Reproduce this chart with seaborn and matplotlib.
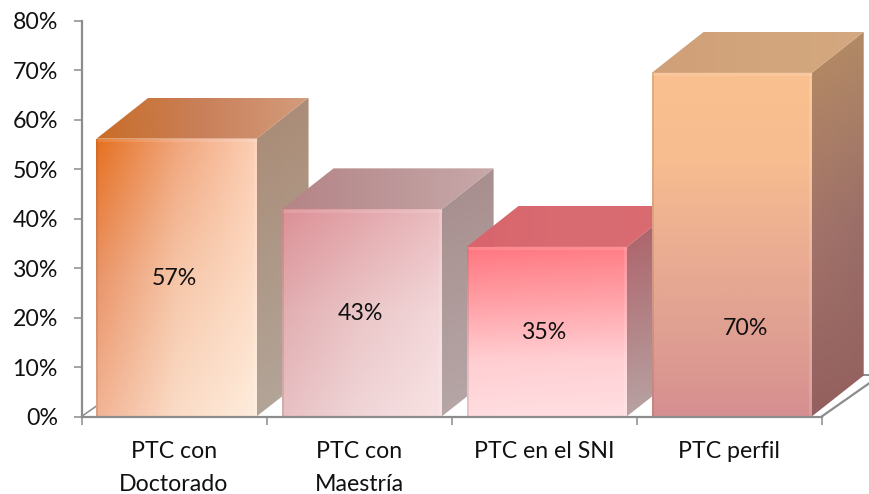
import numpy as np
import pandas as pd
import matplotlib
matplotlib.use("Agg")
import matplotlib.pyplot as plt
from matplotlib.colors import to_rgb
from matplotlib.patches import Polygon
import seaborn as sns

categories = ["PTC con\nDoctorado", "PTC con\nMaestría", "PTC en el SNI", "PTC perfil"]
drawn_heights = [56.2, 41.9, 34.3, 69.5]
value_labels = ["57%", "43%", "35%", "70%"]
y_ticks = [0, 10, 20, 30, 40, 50, 60, 70, 80]

W, H = 869, 494
AX_L, AX_R, AX_T, AX_B = 81.5, 821.7, 21.0, 416.5
AXIS = "#8c8c8c"
FS = 16.7

# colour grids: rows run top to bottom, columns left to right
front_colors = [
    [["#e5701f", "#f0a47a", "#fdcfb4"], ["#ea9468", "#f6c6a8", "#fddcc6"], ["#f2b393", "#fbdcc6", "#feecdc"]],
    [["#dc9096", "#e3a6aa", "#eabcc0"], ["#e2aeb1", "#ebc6c8", "#f3d8da"], ["#e8c0c3", "#f0d6d8", "#f9e2e3"]],
    [["#ff7680", "#ff7e86"], ["#ffa0a6", "#ffa6ac"], ["#ffcdd1", "#ffd0d4"], ["#ffdde0", "#ffdfe2"]],
    [["#fbc08e", "#fbc08e"], ["#f8bd90", "#f8bd90"], ["#ecae92", "#ecae92"], ["#e0a092", "#e0a092"], ["#d68f90", "#d68f90"]],
]
side_colors = [
    [["#a98a74", "#ab8d78"], ["#b2a498", "#b5a89c"]],
    [["#a68c8c", "#a98f8f"], ["#b6a6a6", "#b8a8a8"]],
    [["#ad5a62", "#a8666a"], ["#b8a2a2", "#b8a4a4"]],
    [["#b68c62", "#b28a66"], ["#a3746a", "#9a6e68"], ["#94605f", "#935f5e"]],
]
top_colors = [
    [["#c96d27", "#c9805a", "#d49c7c"]],
    [["#b58486", "#bc9698", "#c8a8a8"]],
    [["#d9646c", "#d86c72", "#da6a70"]],
    [["#d0a078", "#d2a57c", "#d4a880"]],
]

sns.set_theme(style="white")
plt.rcParams["font.family"] = ["Lato", "DejaVu Sans"]

fig = plt.figure(figsize=(W / 100, H / 100), dpi=100)
ax = fig.add_axes([AX_L / W, 1 - AX_B / H, (AX_R - AX_L) / W, (AX_B - AX_T) / H])

df = pd.DataFrame({"cat": categories, "val": drawn_heights})
sns.barplot(data=df, x="cat", y="val", hue="cat", legend=False, width=0.865, ax=ax, saturation=1)

px_x = 4 / (AX_R - AX_L)
px_y = 80 / (AX_B - AX_T)
DX, DY = 52 * px_x, 41 * px_y
XLIM = (-0.5, 3.5)
YLIM = (0, 80)


def smooth(grid, n=160):
    arr = np.array([[to_rgb(c) for c in row] for row in grid])
    r, c = arr.shape[:2]
    ys = np.linspace(0, r - 1, n)
    xs = np.linspace(0, c - 1, n)
    out = np.zeros((n, n, 3))
    for k in range(3):
        tmp = np.array([np.interp(xs, np.arange(c), arr[i, :, k]) for i in range(r)])
        out[:, :, k] = np.array([np.interp(ys, np.arange(r), tmp[:, j]) for j in range(n)]).T
    return out


def paint(grid, verts, z):
    verts = np.array(verts)
    x0, y0 = verts.min(axis=0)
    x1, y1 = verts.max(axis=0)
    im = ax.imshow(smooth(grid), extent=(x0, x1, y0, y1), origin="upper",
                   aspect="auto", interpolation="bilinear", zorder=z)
    poly = Polygon(verts, closed=True, transform=ax.transData, facecolor="none", edgecolor="none")
    im.set_clip_box(fig.bbox)
    im.set_clip_path(poly)


rects = [b for c in ax.containers for b in c]
for i, r in enumerate(rects):
    r.set_x(r.get_x() + 2.5 * px_x)
    x0, w, h = r.get_x(), r.get_width(), r.get_height()
    x1 = x0 + w
    z = 10 + 3 * i
    r.set_visible(False)
    paint(side_colors[i], [(x1, 0), (x1 + DX, DY), (x1 + DX, h + DY), (x1, h)], z)
    paint(top_colors[i], [(x0, h), (x0 + DX, h + DY), (x1 + DX, h + DY), (x1, h)], z)
    paint(front_colors[i], [(x0, 0), (x0, h), (x1, h), (x1, 0)], z + 1)
    # soft bevel round the front face
    ax.plot([x0, x1], [h - 1.5 * px_y] * 2, color="white", alpha=0.12, lw=2.2, zorder=z + 2, solid_capstyle="butt")
    ax.plot([x0 + 1 * px_x] * 2, [0, h], color="#6a4a3a", alpha=0.16, lw=1.4, zorder=z + 2, solid_capstyle="butt")
    ax.plot([x1 - 1.5 * px_x] * 2, [0, h], color="white", alpha=0.14, lw=2.0, zorder=z + 2, solid_capstyle="butt")

# floor lines
FX, FY = 60 * px_x, 42 * px_y
ax.plot([XLIM[0], XLIM[0] + FX], [0, FY], color=AXIS, lw=1.1, zorder=2, clip_on=False)
ax.plot([XLIM[1], XLIM[1] + FX], [0, FY], color=AXIS, lw=1.6, zorder=40, clip_on=False)
ax.plot([XLIM[0] + FX, XLIM[1] + FX], [FY, FY], color=AXIS, lw=1.4, zorder=2, clip_on=False)

# value labels: centred in the bar, the last one was moved by hand
label_shift = [(0, -1), (1, -1), (0, -1), (16, -84)]
for i, r in enumerate(rects):
    ax.annotate(value_labels[i], xy=(i, r.get_height() / 2), xytext=(label_shift[i][0] * 0.72, label_shift[i][1] * 0.72),
                textcoords="offset points", ha="center", va="center", fontsize=FS, color="#111111", zorder=60)

ax.set_xlim(*XLIM)
ax.set_ylim(*YLIM)
ax.set_xlabel("")
ax.set_ylabel("")
ax.set_yticks(y_ticks, labels=[f"{t}%" for t in y_ticks])
ax.set_xticks(np.arange(-0.5, 4), labels=[""] * 5)
ax.set_xticks(range(4), labels=categories, minor=True)
ax.tick_params(axis="y", which="major", left=True, length=6, width=1.1, color=AXIS, pad=11, labelsize=FS, labelcolor="#111111")
ax.tick_params(axis="x", which="major", bottom=True, length=6, width=1.1, color=AXIS)
ax.tick_params(axis="x", which="minor", bottom=False, length=0, pad=17.5, labelsize=FS, labelcolor="#111111")
for lab in ax.get_xticklabels(minor=True):
    lab.set_linespacing(1.7)
    lab.set_verticalalignment("top")
for s in ("top", "right"):
    ax.spines[s].set_visible(False)
for s in ("left", "bottom"):
    ax.spines[s].set_color(AXIS)
    ax.spines[s].set_linewidth(1.6)
    ax.spines[s].set_zorder(50)
ax.patch.set_visible(False)

fig.savefig("out.png", dpi=100)
